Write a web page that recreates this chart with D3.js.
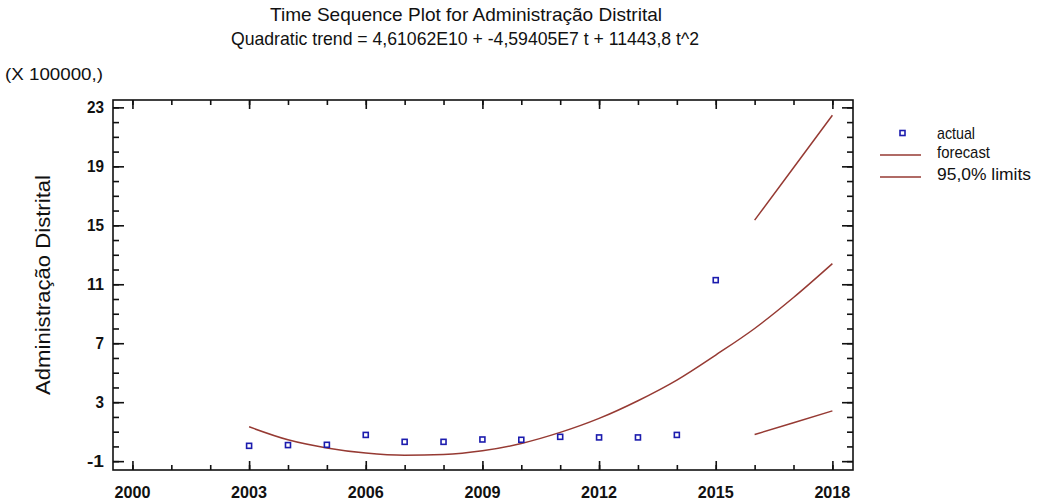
<!DOCTYPE html>
<html>
<head>
<meta charset="utf-8">
<script src="https://cdn.jsdelivr.net/npm/d3@7"></script>
<style>
  body { margin: 0; background: #fff; }
  svg text { font-family: "Liberation Sans", Arial, sans-serif; fill: #111; }
</style>
</head>
<body>
<div id="chart"></div>
<script>
// values in units of 100000
var actualYears = [2003, 2004, 2005, 2006, 2007, 2008, 2009, 2010, 2011, 2012, 2013, 2014, 2015];
var actualValues = [0.04, 0.09, 0.11, 0.78, 0.31, 0.31, 0.47, 0.45, 0.65, 0.61, 0.61, 0.78, 11.28];

var forecastYears = [2003, 2004, 2005, 2006, 2007, 2008, 2009, 2010, 2011, 2012, 2013, 2014, 2015, 2016, 2017, 2018];
var forecastValues = [1.33, 0.45, -0.1, -0.45, -0.6, -0.55, -0.3, 0.2, 0.95, 1.9, 3.1, 4.5, 6.2, 8.0, 10.1, 12.4];

var limitYears = [2016, 2017, 2018];
var upperLimits = [15.35, 18.9, 22.47];
var lowerLimits = [0.81, 1.6, 2.41];

var xTickLabels = [2000, 2003, 2006, 2009, 2012, 2015, 2018];
var yTickLabels = [-1, 3, 7, 11, 15, 19, 23];

var W = 1042, H = 504;
var margin = {top: 100, right: 189, bottom: 34, left: 113};
var width = W - margin.left - margin.right,
    height = H - margin.top - margin.bottom;

var lineColor = "#963a33",
    pointColor = "#1c1cae";

var svg = d3.select("#chart").append("svg")
  .attr("width", W)
  .attr("height", H);

svg.append("rect").attr("width", W).attr("height", H).attr("fill", "#fff");

var x = d3.scaleLinear().domain([1999.5, 2018.53]).range([0, width]);
var y = d3.scaleLinear().domain([-1.6, 23.5]).range([height, 0]);

var g = svg.append("g")
  .attr("transform", "translate(" + margin.left + "," + margin.top + ")");

// narrow-looking text: squeeze a normal face to the width seen in the picture
function narrowText(sel, txt, size, len) {
  return sel.style("font-size", size + "px")
    .attr("textLength", len)
    .attr("lengthAdjust", "spacingAndGlyphs")
    .text(txt);
}

// titles
narrowText(svg.append("text").attr("x", 466).attr("y", 21).attr("text-anchor", "middle"),
  "Time Sequence Plot for Administração Distrital", 19, 392);
narrowText(svg.append("text").attr("x", 465).attr("y", 45).attr("text-anchor", "middle"),
  "Quadratic trend = 4,61062E10 + -4,59405E7 t  + 11443,8 t^2", 19, 468);

narrowText(svg.append("text").attr("x", 5).attr("y", 80),
  "(X 100000,)", 17, 98);

narrowText(svg.append("text")
  .attr("transform", "translate(50," + (margin.top + height / 2) + ") rotate(-90)")
  .attr("text-anchor", "middle"),
  "Administração Distrital", 20, 220);

// axes: majors labelled, minors every unit / year, ticks pointing inward on all sides
var xMinor = d3.range(2000, 2019, 1);
var yMinor = d3.range(-1, 24, 1);

function tickAxis(axisFn, scale, values, size) {
  return axisFn(scale).tickValues(values).tickSize(size).tickFormat("");
}

g.append("g").attr("transform", "translate(0," + height + ")")
  .call(tickAxis(d3.axisTop, x, xMinor, 5));
g.append("g").attr("transform", "translate(0," + height + ")")
  .call(tickAxis(d3.axisTop, x, xTickLabels, 9));
g.append("g")
  .call(tickAxis(d3.axisBottom, x, xMinor, 5));
g.append("g")
  .call(tickAxis(d3.axisBottom, x, xTickLabels, 9));
g.append("g")
  .call(tickAxis(d3.axisRight, y, yMinor, 6));
g.append("g")
  .call(tickAxis(d3.axisRight, y, yTickLabels, 11));
g.append("g").attr("transform", "translate(" + width + ",0)")
  .call(tickAxis(d3.axisLeft, y, yMinor, 6));
g.append("g").attr("transform", "translate(" + width + ",0)")
  .call(tickAxis(d3.axisLeft, y, yTickLabels, 11));

g.selectAll(".domain").remove();
g.selectAll(".tick line").attr("stroke", "#111").attr("stroke-width", 1.6);

g.selectAll(".xlab")
  .data(xTickLabels)
  .enter().append("text")
  .attr("x", function(d) { return x(d); })
  .attr("y", height + 28)
  .attr("text-anchor", "middle")
  .style("font-size", "17px")
  .style("font-weight", "bold")
  .attr("textLength", 36)
  .attr("lengthAdjust", "spacingAndGlyphs")
  .text(function(d) { return d; });

g.selectAll(".ylab")
  .data(yTickLabels)
  .enter().append("text")
  .attr("x", -9)
  .attr("y", function(d) { return y(d); })
  .attr("dy", "0.35em")
  .attr("text-anchor", "end")
  .style("font-size", "17px")
  .style("font-weight", "bold")
  .attr("textLength", function(d) { return String(d).length * 8.5; })
  .attr("lengthAdjust", "spacingAndGlyphs")
  .text(function(d) { return d; });

g.append("rect")
  .attr("width", width).attr("height", height)
  .attr("fill", "none")
  .attr("stroke", "#111")
  .attr("stroke-width", 1.6);

// forecast curve and limits
var line = d3.line()
  .x(function(d) { return x(d[0]); })
  .y(function(d) { return y(d[1]); })
  .curve(d3.curveMonotoneX);

g.append("path")
  .datum(d3.zip(forecastYears, forecastValues))
  .attr("d", line)
  .attr("fill", "none")
  .attr("stroke", lineColor)
  .attr("stroke-width", 1.5);

[upperLimits, lowerLimits].forEach(function(vals) {
  g.append("path")
    .datum(d3.zip(limitYears, vals))
    .attr("d", line)
    .attr("fill", "none")
    .attr("stroke", lineColor)
    .attr("stroke-width", 1.5);
});

// actual points
g.selectAll(".pt")
  .data(d3.zip(actualYears, actualValues))
  .enter().append("rect")
  .attr("x", function(d) { return x(d[0]) - 2.5; })
  .attr("y", function(d) { return y(d[1]) - 2.5; })
  .attr("width", 5).attr("height", 5)
  .attr("fill", "none")
  .attr("stroke", pointColor)
  .attr("stroke-width", 1.6);

// legend
var legend = svg.append("g").attr("transform", "translate(880,133)");
legend.append("rect")
  .attr("x", 20).attr("y", -2.5).attr("width", 5).attr("height", 5)
  .attr("fill", "none").attr("stroke", pointColor).attr("stroke-width", 1.6);
narrowText(legend.append("text").attr("x", 57).attr("y", 0).attr("dy", "0.35em"),
  "actual", 17, 38);
[["forecast", 19, 53], ["95,0% limits", 41, 94]].forEach(function(item) {
  legend.append("line")
    .attr("x1", 0).attr("x2", 41)
    .attr("y1", item[1] + 3).attr("y2", item[1] + 3)
    .attr("stroke", lineColor).attr("stroke-width", 1.5);
  narrowText(legend.append("text").attr("x", 57).attr("y", item[1]).attr("dy", "0.35em"),
    item[0], 17, item[2]);
});
</script>
</body>
</html>
